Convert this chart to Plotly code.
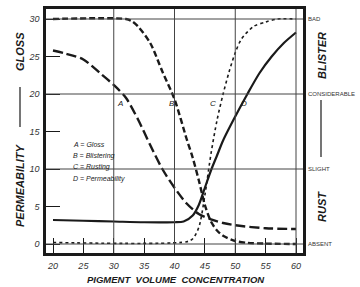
import plotly.graph_objects as go

# ---- data ----
pvc_gloss = [20, 22, 25, 28, 30, 32, 34, 36, 38, 40, 42, 44, 46, 48, 50, 55, 60]
gloss = [25.8, 25.4, 24.6, 22.6, 21.2, 19.5, 16.6, 13.2, 10.0, 7.5, 5.4, 4.0, 3.3, 2.8, 2.5, 2.1, 2.0]

pvc_blister = [20, 32, 33, 34, 36, 38, 40, 42, 43, 44, 45, 46, 47, 48, 50, 52, 55, 60]
blister = [30, 30, 29.7, 29.0, 26.8, 23.0, 19.3, 14.0, 11.5, 8.5, 5.2, 3.0, 1.8, 1.1, 0.4, 0.15, 0.05, 0.0]

pvc_rust = [20, 42, 43, 44, 45, 46, 47, 48, 49, 50, 51, 53, 55, 57, 60]
rust = [0.2, 0.3, 0.7, 2.2, 6.5, 12.0, 16.5, 20.0, 23.0, 25.5, 27.3, 29.0, 29.6, 30, 30]

pvc_perm = [20, 25, 30, 35, 40, 41.5, 43, 44, 45, 46, 47, 48, 50, 52, 54, 56, 58, 60]
perm = [3.2, 3.1, 3.0, 2.9, 2.9, 3.0, 3.8, 5.2, 7.5, 9.8, 11.8, 13.8, 17.0, 20.0, 22.8, 25.0, 26.8, 28.2]

x_ticks = [20, 25, 30, 35, 40, 45, 50, 55, 60]
y_ticks = [0, 5, 10, 15, 20, 25, 30]
right_vals = [0, 10, 20, 30]
right_text = ["ABSENT", "SLIGHT", "CONSIDERABLE", "BAD"]
x_grid = [30, 40, 50, 60]
y_grid = [0, 10, 20, 30]

curve_labels = ["A", "B", "C", "D"]
curve_label_x = [31.0, 39.6, 46.3, 51.4]
curve_label_y = 18.8
legend_lines = ["A = Gloss", "B = Blistering", "C = Rusting", "D = Permeability"]

# ---- layout geometry (pixels) ----
W, H = 360, 287
L, R, T, B = 46, 303, 9, 253


def px(x):
    return (x - L) / (R - L)


def py(y):
    return (B - y) / (B - T)


INK = "#1a1a1a"
GRAY = "#444444"
FONT = "Liberation Sans"

fig = go.Figure()

fig.add_trace(go.Scatter(x=pvc_gloss, y=gloss, mode="lines", line_shape="spline",
                         line=dict(color=INK, width=2.4, dash="10px,4px", smoothing=0.8), name="A"))
fig.add_trace(go.Scatter(x=pvc_blister, y=blister, mode="lines", line_shape="spline",
                         line=dict(color=INK, width=2.4, dash="6px,3px", smoothing=0.8), name="B"))
fig.add_trace(go.Scatter(x=pvc_rust, y=rust, mode="lines", line_shape="spline",
                         line=dict(color=INK, width=1.6, dash="dot", smoothing=0.8), name="C"))
fig.add_trace(go.Scatter(x=pvc_perm, y=perm, mode="lines", line_shape="spline",
                         line=dict(color=INK, width=2.2, smoothing=0.8), name="D"))
# invisible trace for right axis
fig.add_trace(go.Scatter(x=[20], y=[0], yaxis="y2", mode="markers",
                         marker=dict(opacity=0), showlegend=False, hoverinfo="skip"))

shapes = []
for g in x_grid:
    shapes.append(dict(type="line", xref="x", yref="paper", x0=g, x1=g, y0=0, y1=1,
                       line=dict(color=GRAY, width=1)))
for g in y_grid:
    shapes.append(dict(type="line", xref="paper", yref="y", x0=0, x1=1, y0=g, y1=g,
                       line=dict(color=GRAY, width=1)))
# axis-title separator lines
shapes.append(dict(type="line", xref="paper", yref="paper", x0=px(20), x1=px(20),
                   y0=py(87), y1=py(127), line=dict(color=INK, width=1.2)))
shapes.append(dict(type="line", xref="paper", yref="paper", x0=px(321), x1=px(321),
                   y0=py(100), y1=py(157), line=dict(color=INK, width=1.2)))

ann = []
for lab, lx in zip(curve_labels, curve_label_x):
    ann.append(dict(x=lx, y=curve_label_y, xref="x", yref="y", text=lab, showarrow=False,
                    xanchor="center", yanchor="middle",
                    font=dict(family=FONT, size=8, color=INK, style="italic")))
for i, t in enumerate(legend_lines):
    ann.append(dict(x=px(71), y=py(144 + i * 11.7), xref="paper", yref="paper", text=t,
                    showarrow=False, xanchor="left", yanchor="middle",
                    font=dict(family=FONT, size=7, color=INK, style="italic")))
title_font = dict(family=FONT, size=11, color=INK, style="italic", weight="bold")
for txt, xx, yy in [("GLOSS", 20, 52), ("PERMEABILITY", 20, 185),
                    ("BLISTER", 322, 56), ("RUST", 322, 207)]:
    ann.append(dict(x=px(xx), y=py(yy), xref="paper", yref="paper", text=txt,
                    textangle=-90, showarrow=False, xanchor="center", yanchor="middle",
                    font=title_font))
ann.append(dict(x=px(176), y=py(279), xref="paper", yref="paper",
                text="PIGMENT  VOLUME  CONCENTRATION", showarrow=False,
                xanchor="center", yanchor="middle",
                font=dict(family=FONT, size=9.5, color=INK, style="italic", weight="bold")))

tickfont = dict(family=FONT, size=9, color="#333333", style="italic")

fig.update_layout(
    width=W, height=H,
    margin=dict(l=L, r=W - R, t=T, b=H - B, pad=0, autoexpand=False),
    paper_bgcolor="white", plot_bgcolor="white",
    showlegend=False,
    shapes=shapes, annotations=ann,
    xaxis=dict(range=[20 - 7 * 40 / 243, 60 + 7 * 40 / 243], tickvals=x_ticks,
               ticks="inside", ticklen=15, tickcolor=INK, tickwidth=1,
               showgrid=False, zeroline=False, showline=True, linecolor=INK, linewidth=2.5,
               mirror=True, tickfont=tickfont, ticklabelstandoff=2, automargin=False),
    yaxis=dict(range=[-9 / 7.5, 30 + 10 / 7.5], tickvals=y_ticks,
               ticks="inside", ticklen=14, tickcolor=INK, tickwidth=1,
               showgrid=False, zeroline=False, showline=True, linecolor=INK, linewidth=2.5,
               mirror=True, tickfont=tickfont, ticklabelstandoff=2, automargin=False),
    yaxis2=dict(range=[-9 / 7.5, 30 + 10 / 7.5], overlaying="y", side="right",
                tickvals=right_vals, ticktext=right_text, ticks="",
                showgrid=False, zeroline=False, showline=False, ticklabelstandoff=4,
                automargin=False,
                tickfont=dict(family=FONT, size=6, color="#333333")),
)

fig.write_html("out.html", config={"displayModeBar": False},
               post_script="document.body.style.margin='0';document.body.style.overflow='hidden';")
